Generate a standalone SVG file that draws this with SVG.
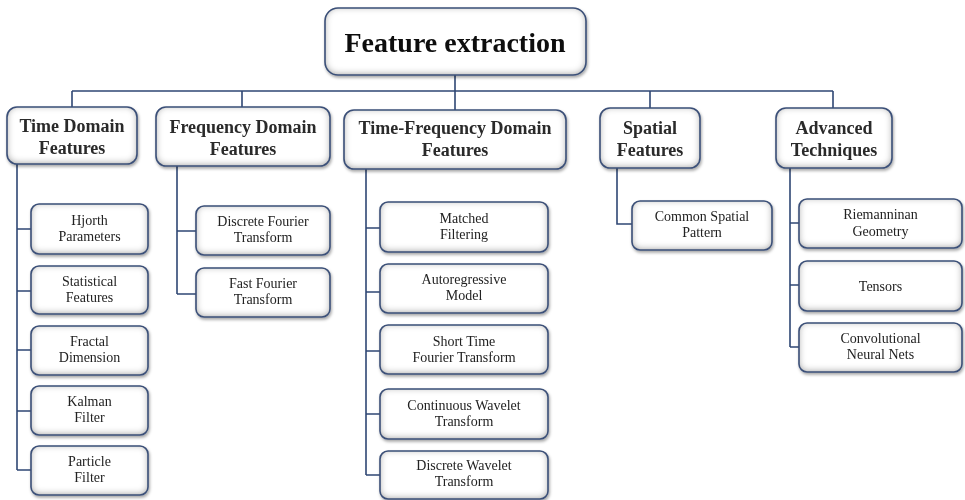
<svg xmlns="http://www.w3.org/2000/svg" width="965" height="500" viewBox="0 0 965 500">
<defs>
<filter id="drop" x="-10%" y="-10%" width="125%" height="135%">
<feDropShadow dx="1" dy="2" stdDeviation="1.5" flood-color="#000" flood-opacity="0.35"/>
</filter>
<filter id="inner" x="-20%" y="-30%" width="140%" height="160%">
<feFlood flood-color="#8f8f8f" result="f"/>
<feComposite in="f" in2="SourceAlpha" operator="out" result="o"/>
<feGaussianBlur in="o" stdDeviation="3.5" result="b"/>
<feOffset in="b" dy="-1" result="bo"/>
<feComposite in="bo" in2="SourceAlpha" operator="in" result="s"/>
<feMerge><feMergeNode in="SourceGraphic"/><feMergeNode in="s"/></feMerge>
</filter>
</defs>
<style>
.fill{fill:#ffffff;filter:url(#inner);}
.edge{fill:none;stroke:#3b5078;stroke-width:1.6;}
.node{filter:url(#drop);}
.t0{font-family:"Liberation Serif","Times New Roman",serif;font-weight:bold;font-size:28px;fill:#111;text-anchor:middle;}
.t1{font-family:"Liberation Serif","Times New Roman",serif;font-weight:bold;font-size:18px;fill:#2a2a2a;text-anchor:middle;}
.t2{font-family:"Liberation Serif","Times New Roman",serif;font-size:14px;fill:#222;text-anchor:middle;}
.conn{fill:none;stroke:#2f4774;stroke-width:1.6;}
</style>
<rect width="965" height="500" fill="#ffffff"/>

<g id="connectors" class="conn">
<path d="M455 75 V91 M72 91 H833 M72 91 V107 M242 91 V107 M455 91 V110 M650 91 V108 M833 91 V108"/>
<path d="M17 164 V470 M17 229 H31 M17 291 H31 M17 350 H31 M17 411 H31 M17 470 H31"/>
<path d="M177 166 V294 M177 231 H196 M177 294 H196"/>
<path d="M366 169 V475 M366 228 H380 M366 292 H380 M366 351 H380 M366 414 H380 M366 475 H380"/>
<path d="M617 168 V224 H632"/>
<path d="M790 168 V347 M790 223 H799 M790 285 H799 M790 347 H799"/>
</g>

<g id="root" class="node"><rect class="fill" x="325" y="8" width="261" height="67" rx="13"/><rect class="edge" x="325" y="8" width="261" height="67" rx="13"/><text class="t0" x="455" y="52">Feature extraction</text></g>

<g id="time" class="node"><rect class="fill" x="7" y="107" width="130" height="57" rx="10"/><rect class="edge" x="7" y="107" width="130" height="57" rx="10"/><text class="t1" x="72" y="132">Time Domain</text><text class="t1" x="72" y="154">Features</text></g>
<g id="freq" class="node"><rect class="fill" x="156" y="107" width="174" height="59" rx="10"/><rect class="edge" x="156" y="107" width="174" height="59" rx="10"/><text class="t1" x="243" y="133">Frequency Domain</text><text class="t1" x="243" y="155">Features</text></g>
<g id="tf" class="node"><rect class="fill" x="344" y="110" width="222" height="59" rx="10"/><rect class="edge" x="344" y="110" width="222" height="59" rx="10"/><text class="t1" x="455" y="134">Time-Frequency Domain</text><text class="t1" x="455" y="156">Features</text></g>
<g id="spatial" class="node"><rect class="fill" x="600" y="108" width="100" height="60" rx="10"/><rect class="edge" x="600" y="108" width="100" height="60" rx="10"/><text class="t1" x="650" y="134">Spatial</text><text class="t1" x="650" y="156">Features</text></g>
<g id="advanced" class="node"><rect class="fill" x="776" y="108" width="116" height="60" rx="10"/><rect class="edge" x="776" y="108" width="116" height="60" rx="10"/><text class="t1" x="834" y="134">Advanced</text><text class="t1" x="834" y="156">Techniques</text></g>

<g id="hjorth" class="node"><rect class="fill" x="31" y="204" width="117" height="50" rx="8"/><rect class="edge" x="31" y="204" width="117" height="50" rx="8"/><text class="t2" x="89.5" y="225">Hjorth</text><text class="t2" x="89.5" y="241">Parameters</text></g>
<g id="statistical" class="node"><rect class="fill" x="31" y="266" width="117" height="48" rx="8"/><rect class="edge" x="31" y="266" width="117" height="48" rx="8"/><text class="t2" x="89.5" y="286">Statistical</text><text class="t2" x="89.5" y="302">Features</text></g>
<g id="fractal" class="node"><rect class="fill" x="31" y="326" width="117" height="49" rx="8"/><rect class="edge" x="31" y="326" width="117" height="49" rx="8"/><text class="t2" x="89.5" y="346">Fractal</text><text class="t2" x="89.5" y="362">Dimension</text></g>
<g id="kalman" class="node"><rect class="fill" x="31" y="386" width="117" height="49" rx="8"/><rect class="edge" x="31" y="386" width="117" height="49" rx="8"/><text class="t2" x="89.5" y="406">Kalman</text><text class="t2" x="89.5" y="422">Filter</text></g>
<g id="particle" class="node"><rect class="fill" x="31" y="446" width="117" height="49" rx="8"/><rect class="edge" x="31" y="446" width="117" height="49" rx="8"/><text class="t2" x="89.5" y="466">Particle</text><text class="t2" x="89.5" y="482">Filter</text></g>

<g id="dft" class="node"><rect class="fill" x="196" y="206" width="134" height="49" rx="8"/><rect class="edge" x="196" y="206" width="134" height="49" rx="8"/><text class="t2" x="263" y="226">Discrete Fourier</text><text class="t2" x="263" y="242">Transform</text></g>
<g id="fft" class="node"><rect class="fill" x="196" y="268" width="134" height="49" rx="8"/><rect class="edge" x="196" y="268" width="134" height="49" rx="8"/><text class="t2" x="263" y="288">Fast Fourier</text><text class="t2" x="263" y="304">Transform</text></g>

<g id="matched" class="node"><rect class="fill" x="380" y="202" width="168" height="50" rx="8"/><rect class="edge" x="380" y="202" width="168" height="50" rx="8"/><text class="t2" x="464" y="223">Matched</text><text class="t2" x="464" y="239">Filtering</text></g>
<g id="ar" class="node"><rect class="fill" x="380" y="264" width="168" height="49" rx="8"/><rect class="edge" x="380" y="264" width="168" height="49" rx="8"/><text class="t2" x="464" y="284">Autoregressive</text><text class="t2" x="464" y="300">Model</text></g>
<g id="stft" class="node"><rect class="fill" x="380" y="325" width="168" height="49" rx="8"/><rect class="edge" x="380" y="325" width="168" height="49" rx="8"/><text class="t2" x="464" y="346">Short Time</text><text class="t2" x="464" y="362">Fourier Transform</text></g>
<g id="cwt" class="node"><rect class="fill" x="380" y="389" width="168" height="50" rx="8"/><rect class="edge" x="380" y="389" width="168" height="50" rx="8"/><text class="t2" x="464" y="410">Continuous Wavelet</text><text class="t2" x="464" y="426">Transform</text></g>
<g id="dwt" class="node"><rect class="fill" x="380" y="451" width="168" height="48" rx="8"/><rect class="edge" x="380" y="451" width="168" height="48" rx="8"/><text class="t2" x="464" y="470">Discrete Wavelet</text><text class="t2" x="464" y="486">Transform</text></g>

<g id="csp" class="node"><rect class="fill" x="632" y="201" width="140" height="49" rx="8"/><rect class="edge" x="632" y="201" width="140" height="49" rx="8"/><text class="t2" x="702" y="221">Common Spatial</text><text class="t2" x="702" y="237">Pattern</text></g>

<g id="riemann" class="node"><rect class="fill" x="799" y="199" width="163" height="49" rx="8"/><rect class="edge" x="799" y="199" width="163" height="49" rx="8"/><text class="t2" x="880.5" y="219">Riemanninan</text><text class="t2" x="880.5" y="236">Geometry</text></g>
<g id="tensors" class="node"><rect class="fill" x="799" y="261" width="163" height="50" rx="8"/><rect class="edge" x="799" y="261" width="163" height="50" rx="8"/><text class="t2" x="880.5" y="291">Tensors</text></g>
<g id="cnn" class="node"><rect class="fill" x="799" y="323" width="163" height="49" rx="8"/><rect class="edge" x="799" y="323" width="163" height="49" rx="8"/><text class="t2" x="880.5" y="343">Convolutional</text><text class="t2" x="880.5" y="359">Neural Nets</text></g>
</svg>
